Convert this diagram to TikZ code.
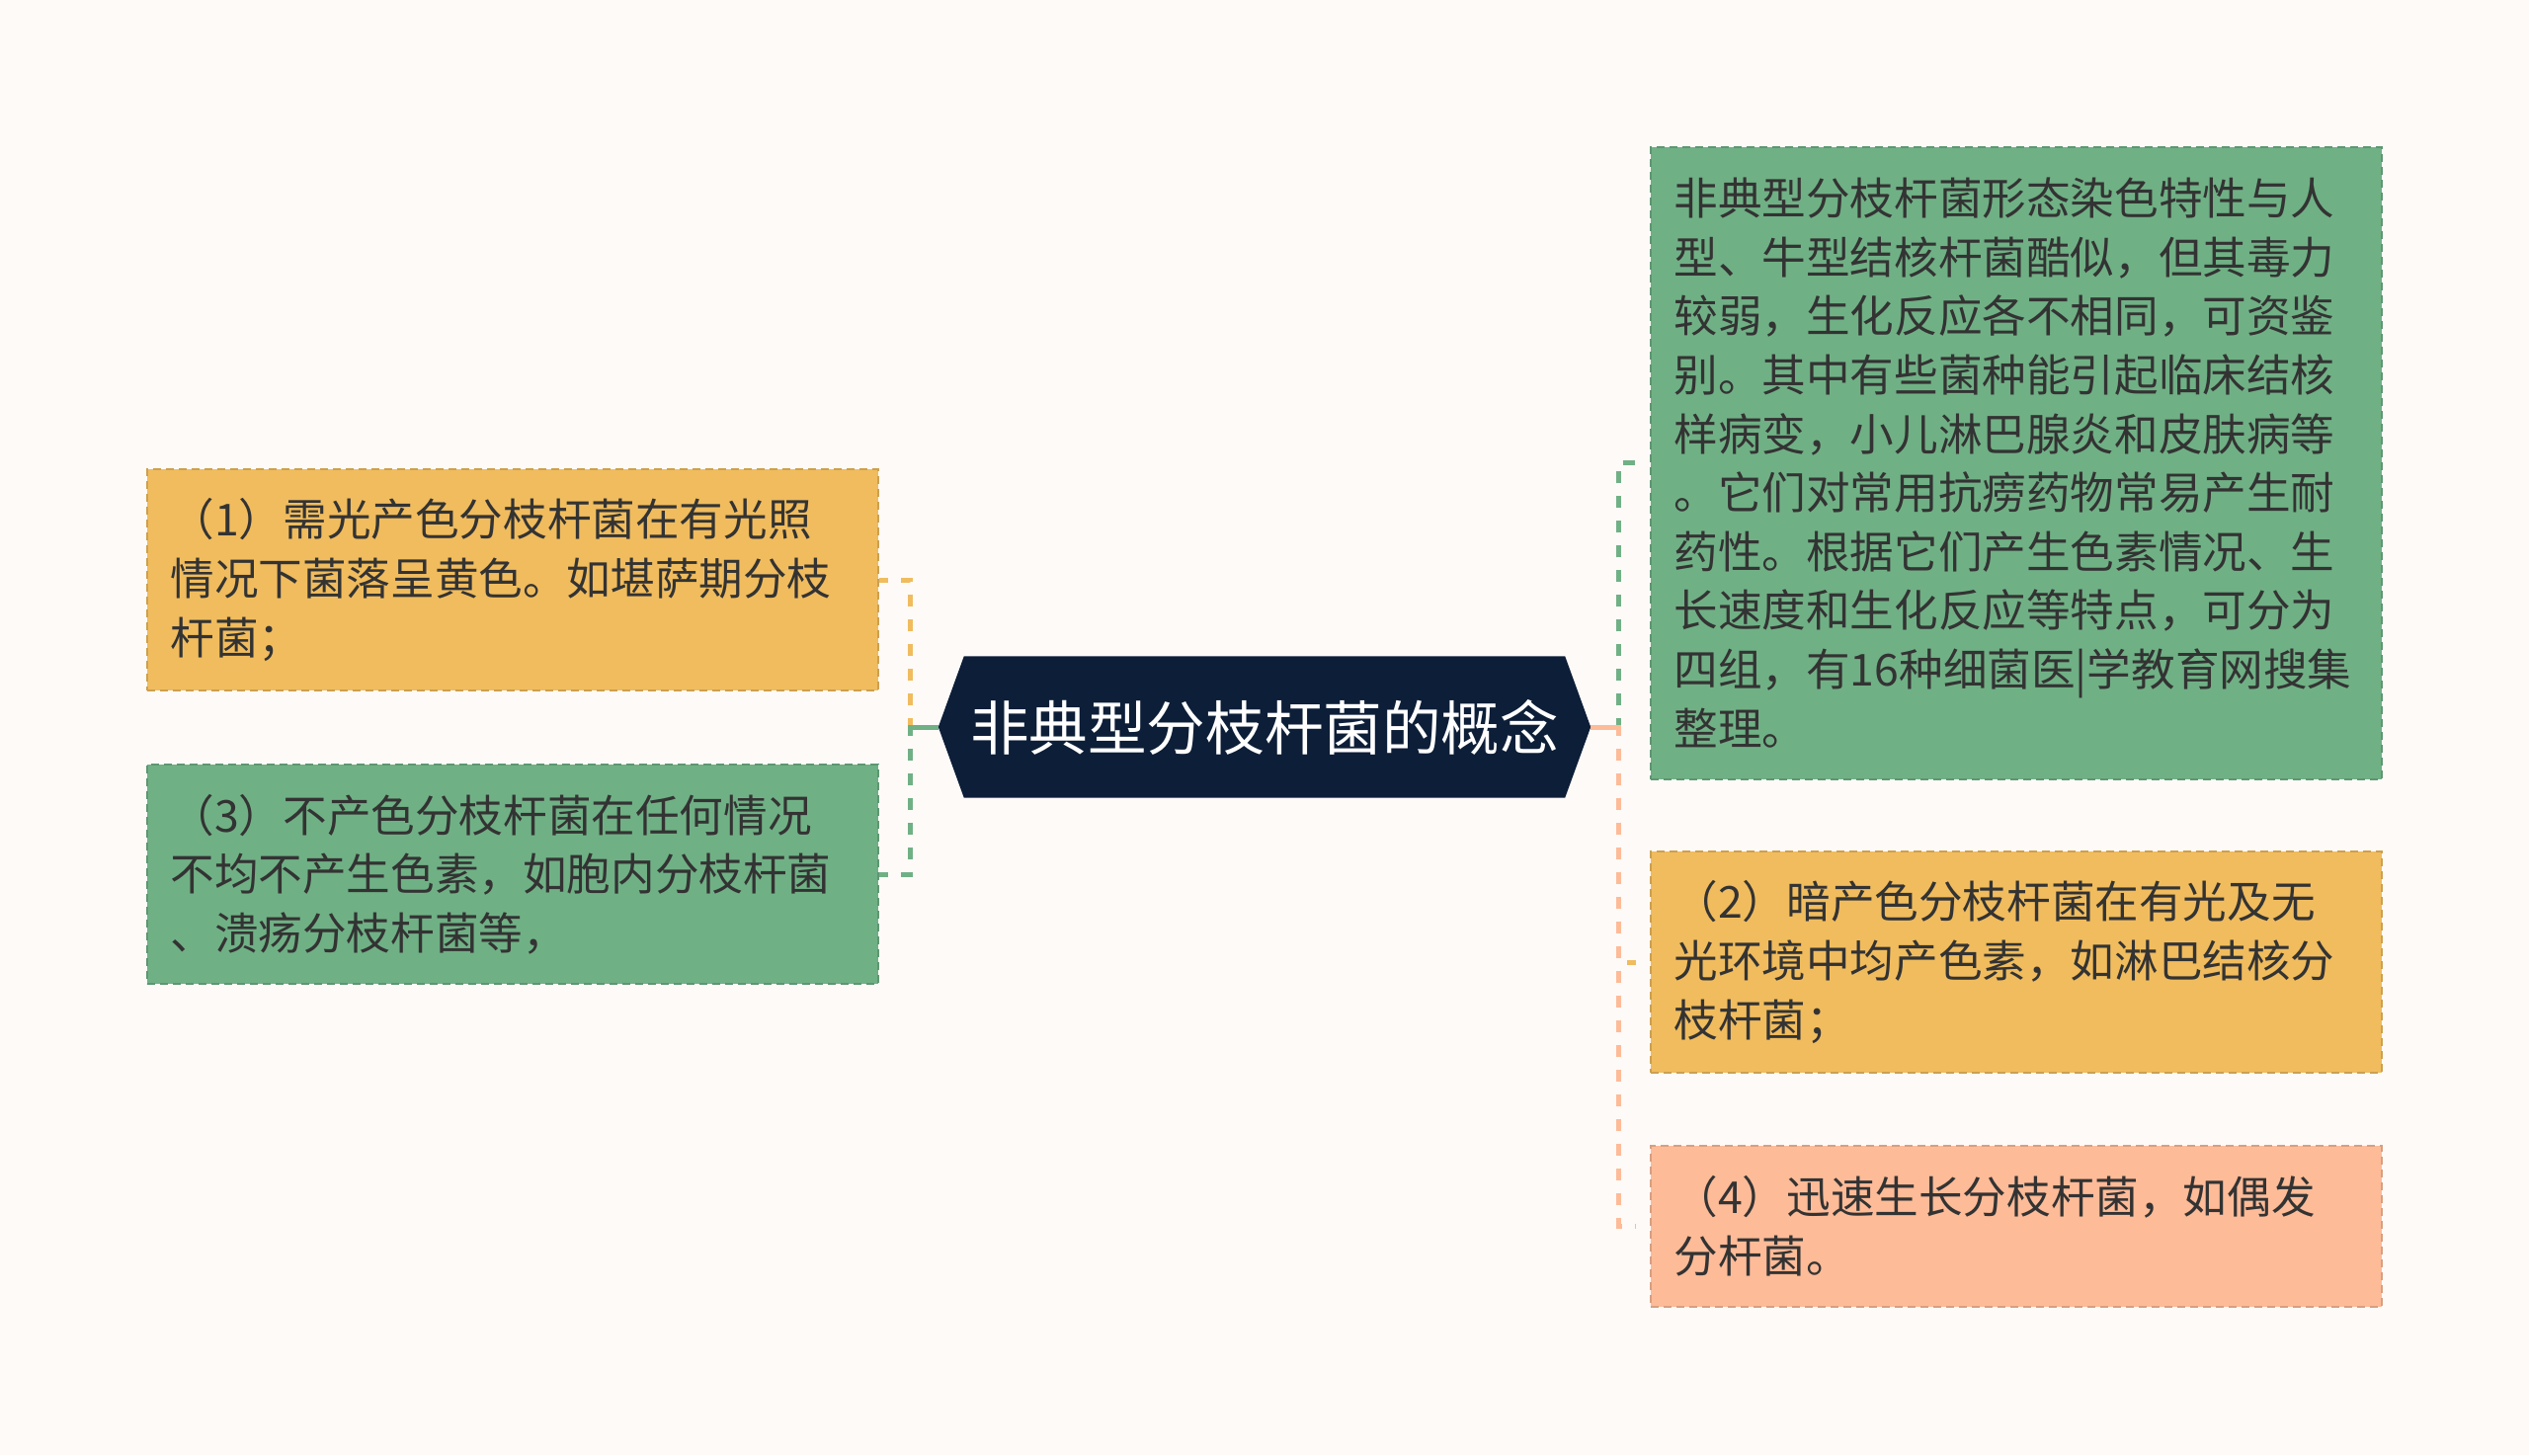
\documentclass[tikz,border=0pt]{standalone}
\usepackage{fontspec}
\newfontfamily\cjk{Noto Sans CJK SC}
\usetikzlibrary{calc}
\definecolor{bgc}{HTML}{FDFAF8}
\definecolor{ylw}{HTML}{F0BC5E}
\definecolor{grn}{HTML}{70B085}
\definecolor{slm}{HTML}{FDBB98}
\definecolor{navy}{HTML}{0D1E38}
\definecolor{txt}{HTML}{333333}
\pgfdeclarelayer{back}
\pgfsetlayers{back,main}
\tikzset{
  tbox/.style={rectangle, draw=#1!85!black, fill=#1, dashed, dash pattern=on 8pt off 5pt, line width=2pt,
    text width=692pt, align=left, inner xsep=24pt, inner ysep=0pt, minimum width=740pt,
    font=\cjk\fontsize{44.6pt}{59.6pt}\selectfont, text=txt},
  hexc/.style={rectangle, minimum width=608pt, minimum height=143pt, inner sep=0pt, text=white,
    font=\cjk\fontsize{59.6pt}{70pt}\selectfont},
  conn/.style={line width=5pt, dash pattern=on 12pt off 13pt},
  solidconn/.style={line width=5pt}
}
\begin{document}
\begin{tikzpicture}[x=1pt,y=-1pt]
\begin{pgfonlayer}{back}
\fill[bgc] (0,0) rectangle (2560,1473);
\end{pgfonlayer}
\useasboundingbox (0,0) rectangle (2560,1473);

\node[hexc] (c) at (1280,736) {非典型分枝杆菌的概念};
\begin{pgfonlayer}{back}
\fill[navy] (c.north west) -- (c.north east) -- ($(c.east)+(26,0)$) -- (c.south east) -- (c.south west) -- ($(c.west)+(-26,0)$) -- cycle;
\end{pgfonlayer}
\coordinate (tl) at ($(c.west)+(-26,0)$);
\coordinate (tr) at ($(c.east)+(26,0)$);

\node[tbox=ylw, minimum height=224pt] (L1) at (518.5,587) {（1）需光产色分枝杆菌在有光照\\情况下菌落呈黄色。如堪萨期分枝\\杆菌；};
\node[tbox=grn, minimum height=222pt] (L3) at (518.5,885) {（3）不产色分枝杆菌在任何情况\\不均不产生色素，如胞内分枝杆菌\\、溃疡分枝杆菌等，};
\node[tbox=grn, minimum height=640pt] (R0) at (2040.5,468.5) {非典型分枝杆菌形态染色特性与人\\型、牛型结核杆菌酷似，但其毒力\\较弱，生化反应各不相同，可资鉴\\别。其中有些菌种能引起临床结核\\样病变，小儿淋巴腺炎和皮肤病等\\。它们对常用抗痨药物常易产生耐\\药性。根据它们产生色素情况、生\\长速度和生化反应等特点，可分为\\四组，有16种细菌医|学教育网搜集\\整理。};
\node[tbox=ylw, minimum height=224pt] (R2) at (2040.5,974) {（2）暗产色分枝杆菌在有光及无\\光环境中均产色素，如淋巴结核分\\枝杆菌；};
\node[tbox=slm, minimum height=163pt] (R4) at (2040.5,1241) {（4）迅速生长分枝杆菌，如偶发\\分杆菌。};

\begin{pgfonlayer}{back}
\draw[conn, ylw] (tl) -| ($(L1.east)+(32,0)$) -- (L1.east);
\draw[conn, grn] (tl) -| ($(L3.east)+(32,0)$) -- (L3.east);
\draw[solidconn, grn] (tl) -- ++(-30,0);
\draw[conn, grn, shorten >=14pt] (tr) -| ($(R0.west)+(-31,0)$) -- (R0.west);
\draw[conn, ylw, shorten >=14pt] (tr) -| ($(R2.west)+(-31,0)$) -- (R2.west);
\draw[conn, slm, shorten >=14pt] (tr) -| ($(R4.west)+(-31,0)$) -- (R4.west);
\draw[solidconn, slm] (tr) -- ++(30,0);
\end{pgfonlayer}
\end{tikzpicture}
\end{document}
